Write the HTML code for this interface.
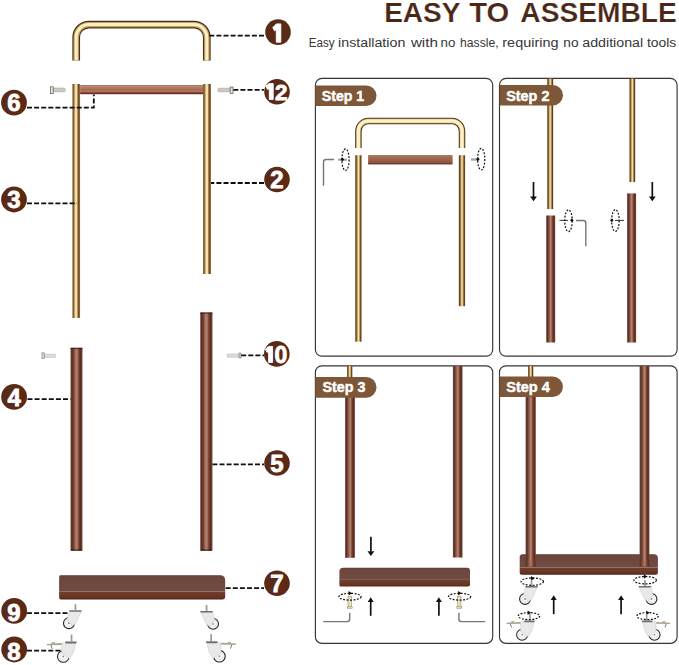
<!DOCTYPE html>
<html><head><meta charset="utf-8">
<style>
html,body{margin:0;padding:0;background:#fff;width:679px;height:665px;overflow:hidden}
svg{display:block}
text{font-family:"Liberation Sans",sans-serif}
</style></head>
<body>
<svg width="679" height="665" viewBox="0 0 679 665">
<defs>
  <linearGradient id="gold" x1="0" y1="0" x2="1" y2="0">
    <stop offset="0" stop-color="#a08058"/>
    <stop offset="0.12" stop-color="#6a4c26"/>
    <stop offset="0.3" stop-color="#c8a870"/>
    <stop offset="0.45" stop-color="#fdebb8"/>
    <stop offset="0.58" stop-color="#f4dca0"/>
    <stop offset="0.75" stop-color="#7c5424"/>
    <stop offset="0.88" stop-color="#6a4420"/>
    <stop offset="1" stop-color="#b89a70"/>
  </linearGradient>
  <linearGradient id="wood" x1="0" y1="0" x2="1" y2="0">
    <stop offset="0" stop-color="#7a5a50"/>
    <stop offset="0.1" stop-color="#582c24"/>
    <stop offset="0.28" stop-color="#7c4232"/>
    <stop offset="0.45" stop-color="#ab806f"/>
    <stop offset="0.56" stop-color="#a87c6b"/>
    <stop offset="0.72" stop-color="#763828"/>
    <stop offset="0.86" stop-color="#5a281c"/>
    <stop offset="1" stop-color="#7a5a50"/>
  </linearGradient>
  <linearGradient id="gold2" x1="0" y1="0" x2="1" y2="0">
    <stop offset="0" stop-color="#7e5e36"/>
    <stop offset="0.14" stop-color="#583a16"/>
    <stop offset="0.34" stop-color="#c4a062"/>
    <stop offset="0.5" stop-color="#fbebbc"/>
    <stop offset="0.66" stop-color="#c8a668"/>
    <stop offset="0.86" stop-color="#583a16"/>
    <stop offset="1" stop-color="#7e5e36"/>
  </linearGradient>
  <linearGradient id="bar2" x1="0" y1="0" x2="0" y2="1">
    <stop offset="0" stop-color="#6e4232"/>
    <stop offset="0.12" stop-color="#a87058"/>
    <stop offset="0.5" stop-color="#9c6248"/>
    <stop offset="0.8" stop-color="#8e5240"/>
    <stop offset="1" stop-color="#5a2818"/>
  </linearGradient>
  <linearGradient id="wood2" x1="0" y1="0" x2="1" y2="0">
    <stop offset="0" stop-color="#6e4a40"/>
    <stop offset="0.14" stop-color="#5e2e22"/>
    <stop offset="0.38" stop-color="#9a6250"/>
    <stop offset="0.52" stop-color="#b48c7a"/>
    <stop offset="0.7" stop-color="#7e4030"/>
    <stop offset="0.86" stop-color="#5e281a"/>
    <stop offset="1" stop-color="#705048"/>
  </linearGradient>
  <linearGradient id="shelfTop" x1="0" y1="0" x2="0" y2="1">
    <stop offset="0" stop-color="#50342e"/>
    <stop offset="0.08" stop-color="#6c463c"/>
    <stop offset="1" stop-color="#714c42"/>
  </linearGradient>
  <linearGradient id="shelfFront" x1="0" y1="0" x2="0" y2="1">
    <stop offset="0" stop-color="#6e4234"/>
    <stop offset="0.18" stop-color="#703c2c"/>
    <stop offset="0.8" stop-color="#663222"/>
    <stop offset="1" stop-color="#4a2018"/>
  </linearGradient>
  <g id="cw">
    <circle cx="0" cy="0" r="5.4" fill="#fbfbfb" stroke="#262626" stroke-width="1.1"/>
    <circle cx="0" cy="0" r="3.2" fill="none" stroke="#cfcfcf" stroke-width="0.6"/>
    <circle cx="0" cy="0" r="0.9" fill="#888"/>
    <path d="M0.2 -11.8 L12.4 -11.8 L7.2 -0.5 L3.6 2.8 L-1.4 -4.2 Z" fill="#e9e9e9" stroke="#c6c6c6" stroke-width="0.5"/>
    <path d="M0 -13 H13 L12.2 -11.4 H1 Z" fill="#707070"/>
    <rect x="5.7" y="-19" width="1.7" height="6" fill="#9a9a9a"/>
  </g>
  <g id="cb">
    <circle cx="0" cy="0" r="5.8" fill="#fbfbfb" stroke="#262626" stroke-width="1.1"/>
    <circle cx="0" cy="0" r="3.5" fill="none" stroke="#cfcfcf" stroke-width="0.6"/>
    <circle cx="0" cy="0" r="0.9" fill="#888"/>
    <path d="M-16.4 -12.6 L-2 -13.4 L-1 -11.6 L-16.4 -11.2 Z" fill="#aca38c"/>
    <path d="M-11.6 -14.2 L-8.6 -14.4 L-7.8 -12.6 L-11.6 -12.4 Z" fill="#b8ae98"/>
    <path d="M-12.4 -11.4 L-11 -7.6" stroke="#6a6458" stroke-width="0.9"/>
    <path d="M-1.5 -13.6 L12.6 -13.6 L10.2 -4 L6.4 2.2 L-1.6 -3.6 Z" fill="#e9e9e9" stroke="#c6c6c6" stroke-width="0.5"/>
    <path d="M1.6 -15 H13.6 L12.8 -13 H2.6 Z" fill="#707070"/>
    <rect x="7.4" y="-22" width="1.7" height="7" fill="#9a9a9a"/>
  </g>
  <linearGradient id="bar" x1="0" y1="0" x2="0" y2="1">
    <stop offset="0" stop-color="#6a4436"/>
    <stop offset="0.1" stop-color="#bf8a78"/>
    <stop offset="0.28" stop-color="#b47a64"/>
    <stop offset="0.5" stop-color="#a66a50"/>
    <stop offset="0.72" stop-color="#b07460"/>
    <stop offset="0.86" stop-color="#7a3422"/>
    <stop offset="1" stop-color="#5a2214"/>
  </linearGradient>
</defs>

<!-- ===== LEFT EXPLODED VIEW ===== -->
<!-- part 1 handle -->
<g fill="none" stroke-linecap="butt">
  <path d="M76.2 60.5 V37.3 A12.7 12.7 0 0 1 88.9 24.6 H194.1 A12.7 12.7 0 0 1 206.8 37.3 V60.5" stroke="#4a3214" stroke-width="7.7"/>
  <path d="M76.2 60.5 V37.3 A12.7 12.7 0 0 1 88.9 24.6 H194.1 A12.7 12.7 0 0 1 206.8 37.3 V60.5" stroke="#c6a262" stroke-width="5.4"/>
  <path d="M76.2 60.5 V37.3 A12.7 12.7 0 0 1 88.9 24.6 H194.1 A12.7 12.7 0 0 1 206.8 37.3 V60.5" stroke="#fcefc6" stroke-width="3"/>
</g>
<!-- part 3 & 2 gold uprights -->
<rect x="72.3" y="84" width="7.8" height="234" fill="url(#gold)"/>
<rect x="203" y="84" width="8" height="190" fill="url(#gold)"/>
<!-- part 6 crossbar -->
<rect x="80.1" y="85.2" width="122.9" height="9" fill="url(#bar)"/>
<!-- brown uprights 4 & 5 -->
<rect x="70.5" y="347.8" width="12" height="203" rx="0.8" fill="url(#wood)"/>
<rect x="200.2" y="312.4" width="12.3" height="238.4" rx="0.8" fill="url(#wood)"/>
<g fill="#3e1a12" opacity="0.75">
  <rect x="70.5" y="347.8" width="12" height="1.3"/>
  <rect x="200.2" y="312.4" width="12.3" height="1.3"/>
  <rect x="70.9" y="549.4" width="11.2" height="1.4"/>
  <rect x="200.6" y="549.4" width="11.5" height="1.4"/>
</g>
<!-- bottom shelf 7 -->
<path d="M60.3 575.2 H220 Q225.2 575.2 225.2 580.4 V591.6 H59.1 V577.2 Q59.1 575.2 60.3 575.2Z" fill="url(#shelfTop)"/>
<path d="M59.1 591.4 H225.2 V596.5 Q225.2 599.4 222.3 599.4 H61 Q59.1 599.4 59.1 597.5Z" fill="url(#shelfFront)"/>
<!-- screws -->
<g fill="#cbcabd" stroke="#9a998c" stroke-width="0.5">
  <rect x="53" y="88" width="12.1" height="3.8" rx="1"/>
  <rect x="218" y="88.2" width="12.2" height="3.6" rx="1"/>
  <rect x="44" y="354.2" width="11.7" height="3.2" rx="0.8" fill="#dcdcdc" stroke="#b0b0b0"/>
  <rect x="227" y="354" width="12" height="3.2" rx="0.8" fill="#dcdcdc" stroke="#b0b0b0"/>
</g>
<g fill="#e6e6de" stroke="#555" stroke-width="0.7">
  <rect x="50.4" y="86.8" width="2.8" height="6.9"/>
  <rect x="230.2" y="87" width="2.8" height="6.6"/>
  <rect x="42" y="352.9" width="2.2" height="5.4" stroke="#777"/>
  <rect x="239" y="353.1" width="2" height="4.8" stroke="#777"/>
</g>
<!-- dashed leader lines -->
<g stroke="#0e0e0e" stroke-width="1.8" stroke-dasharray="5 2.1" fill="none">
  <path d="M209.3 35.6 H265"/>
  <path d="M233.3 89.8 H264"/>
  <path d="M27 107.6 H93.8 V94.5"/>
  <path d="M211 183 H264" stroke-dashoffset="1.7"/>
  <path d="M27 203.3 H77"/>
  <path d="M241.2 355.4 H264"/>
  <path d="M27 399.2 H70.5" stroke-dashoffset="6.6"/>
  <path d="M212.4 464.3 H264"/>
  <path d="M225.7 588.2 H264"/>
  <path d="M27 613.2 H72"/>
  <path d="M27 650.7 H66"/>
</g>

<!-- casters -->
<use href="#cw" transform="translate(68.9 623.2)"/>
<use href="#cw" transform="translate(213.1 623.9) scale(-1 1)"/>
<use href="#cb" transform="translate(63.3 656.5)"/>
<use href="#cb" transform="translate(219.4 656.2) scale(-1 1)"/>
<!-- number badges -->
<g fill="#5a2a16">
  <circle cx="278" cy="32.1" r="12.8"/>
  <circle cx="277" cy="91.8" r="12.8"/>
  <circle cx="14" cy="102.7" r="12.9"/>
  <circle cx="277" cy="179.5" r="12.8"/>
  <circle cx="14" cy="199.5" r="12.9"/>
  <circle cx="276.8" cy="353.9" r="12.8"/>
  <circle cx="14.1" cy="396.9" r="12.9"/>
  <circle cx="277" cy="463" r="12.8"/>
  <circle cx="277" cy="583.2" r="12.8"/>
  <circle cx="14.2" cy="610.9" r="12.9"/>
  <circle cx="14.2" cy="649.5" r="12.9"/>
</g>
<g fill="#fff" stroke="#fff" stroke-width="0.9" stroke-linejoin="round">
  <path d="M272.8 27.6 L276.4 23.9 H280.8 V42.2 H276.3 V29.5 L274.6 30.9 Z"/>
  <path d="M265.8 86.2 L269.2 83.6 H273.2 V99.4 H269.3 V88.5 L267.6 89.6 Z"/>
  <path d="M265.4 349 L268.8 346.4 H272.6 V362.4 H268.6 V351.2 L267 352.4 Z"/>
</g>
<g fill="#fff" font-weight="bold" font-size="24" text-anchor="middle" stroke="#fff" stroke-width="0.8">
  <text x="281.2" y="99.6" font-size="22.5">2</text>
  <text x="14" y="111.4">6</text>
  <text x="277" y="188.2">2</text>
  <text x="14" y="208.2">3</text>
  <text x="280.8" y="362.5" font-size="23">0</text>
  <text x="14.1" y="405.6">4</text>
  <text x="277" y="471.7">5</text>
  <text x="277" y="591.9">7</text>
  <text x="14" y="620.6">9</text>
  <text x="14" y="660">8</text>
</g>

<!-- ===== HEADER ===== -->
<g font-size="28.2" font-weight="bold" fill="#4a2818" stroke="#fff" stroke-width="0.2">
<text x="384.2" y="21.8" textLength="76.3" lengthAdjust="spacingAndGlyphs">EASY</text>
<text x="469.2" y="21.8" textLength="40" lengthAdjust="spacingAndGlyphs">TO</text>
<text x="520.3" y="21.8" textLength="156.5" lengthAdjust="spacingAndGlyphs">ASSEMBLE</text>
</g>
<g font-size="12" fill="#363636">
<text x="308.7" y="47" textLength="25.8" lengthAdjust="spacingAndGlyphs">Easy</text>
<text x="338.1" y="47" textLength="67.2" lengthAdjust="spacingAndGlyphs">installation</text>
<text x="410.9" y="47" textLength="27.0" lengthAdjust="spacingAndGlyphs">with</text>
<text x="440.6" y="47" textLength="14.8" lengthAdjust="spacingAndGlyphs">no</text>
<text x="460" y="47" textLength="38.6" lengthAdjust="spacingAndGlyphs">hassle,</text>
<text x="502.3" y="47" textLength="56.2" lengthAdjust="spacingAndGlyphs">requiring</text>
<text x="563.3" y="47" textLength="15.2" lengthAdjust="spacingAndGlyphs">no</text>
<text x="582.3" y="47" textLength="60.8" lengthAdjust="spacingAndGlyphs">additional</text>
<text x="646.9" y="47" textLength="29.4" lengthAdjust="spacingAndGlyphs">tools</text>
</g>

<!-- ===== PANELS ===== -->
<g fill="none" stroke="#3a3433" stroke-width="1.15">
  <rect x="315.4" y="78.4" width="177.3" height="277.8" rx="6.5"/>
  <rect x="499.5" y="78.4" width="177.6" height="277.8" rx="6.5"/>
  <rect x="315.4" y="365.8" width="177.3" height="277.6" rx="6.5"/>
  <rect x="499.5" y="365.8" width="177.6" height="277.6" rx="6.5"/>
</g>


<!-- ===== PANEL CONTENT ===== -->
<!-- Step 1 -->
<g fill="none" stroke-linecap="butt">
  <path d="M358.4 148 V131 A10 10 0 0 1 368.4 121 H452 A10 10 0 0 1 462 131 V148" stroke="#4e3818" stroke-width="6.5"/>
  <path d="M358.4 148 V131 A10 10 0 0 1 368.4 121 H452 A10 10 0 0 1 462 131 V148" stroke="#e2c68a" stroke-width="4.4"/>
  <path d="M358.4 148 V131 A10 10 0 0 1 368.4 121 H452 A10 10 0 0 1 462 131 V148" stroke="#fdf1cc" stroke-width="3"/>
</g>
<rect x="355.2" y="155.2" width="6.4" height="186.5" fill="url(#gold2)"/>
<rect x="458.8" y="155.2" width="6.3" height="151" fill="url(#gold2)"/>
<rect x="368.1" y="155.3" width="84.5" height="9.1" fill="url(#bar2)"/>

<!-- Step 2 -->
<rect x="547.2" y="78.6" width="6" height="130.5" fill="url(#gold2)"/>
<rect x="546.2" y="215.5" width="9" height="127" fill="url(#wood2)"/>
<rect x="629.4" y="78.6" width="5.8" height="103.4" fill="url(#gold2)"/>
<rect x="627.1" y="193.4" width="9" height="149.1" fill="url(#wood2)"/>

<!-- Step 3 -->
<rect x="347.1" y="366" width="5.3" height="20" fill="url(#gold2)"/>
<rect x="345.1" y="386" width="9.8" height="171.8" fill="url(#wood2)"/>
<rect x="452.9" y="366" width="9.6" height="191.5" fill="url(#wood2)"/>
<path d="M343.4 567.8 H467 Q470 567.8 470 570.8 V579.8 H339.4 V571.8 Q339.4 567.8 343.4 567.8Z" fill="url(#shelfTop)"/>
<path d="M339.4 579.6 H470 V584.6 Q470 586.6 468 586.6 H341 Q339.4 586.6 339.4 585Z" fill="url(#shelfFront)"/>

<!-- Step 4 -->
<rect x="528.1" y="366" width="5.2" height="20" fill="url(#gold2)"/>
<path d="M522.7 554.2 H653.9 Q657.9 554.2 657.9 558.2 V567.6 H519.7 V557.2 Q519.7 554.2 522.7 554.2Z" fill="url(#shelfTop)"/>
<path d="M519.7 567.4 H657.9 V572.2 Q657.9 574.7 655.4 574.7 H521.7 Q519.7 574.7 519.7 572.7Z" fill="url(#shelfFront)"/>
<rect x="525.6" y="386" width="10.2" height="174" fill="url(#wood2)"/>
<rect x="639.6" y="366" width="9.8" height="194" fill="url(#wood2)"/>
<rect x="524.9" y="559.5" width="11.6" height="7" fill="url(#wood2)" opacity="0.85"/>
<rect x="638.9" y="559.5" width="11.2" height="7" fill="url(#wood2)" opacity="0.85"/>

<!-- arrows -->
<g stroke="#111" stroke-width="1.7" fill="none">
  <path d="M533.5 182 V197"/><path d="M652.3 182 V197"/>
  <path d="M370.9 536.8 V551.5"/>
  <path d="M370.7 601.5 V615.8"/><path d="M438.9 601.5 V615.8"/>
  <path d="M553.7 599.5 V614.2"/><path d="M621.1 599.5 V614.2"/>
</g>
<g fill="#111">
  <path d="M530.1 196.5 H536.9 L533.5 201.3Z"/><path d="M648.9 196.5 H655.7 L652.3 201.3Z"/>
  <path d="M367.5 551.2 H374.3 L370.9 556Z"/>
  <path d="M367.7 602 H373.7 L370.7 597.3Z"/><path d="M435.9 602 H441.9 L438.9 597.3Z"/>
  <path d="M550.7 600 H556.7 L553.7 595.3Z"/><path d="M618.1 600 H624.1 L621.1 595.3Z"/>
</g>

<!-- gray leader lines -->
<g stroke="#767676" stroke-width="1.4" fill="none">
  <path d="M334 159.5 H326 Q323.5 159.5 323.5 162 V185.8"/>
  <path d="M576 220.5 H583.3 Q585.8 220.5 585.8 223 V246.2"/>
  <path d="M349.7 612.8 V619.1 Q349.7 621.6 347.2 621.6 H323.3"/>
  <path d="M458.9 612.8 V619.1 Q458.9 621.6 461.4 621.6 H485.2"/>
</g>

<!-- screws in panels -->
<g fill="#a8a8a0">
  <rect x="338" y="158.6" width="9" height="2.2"/>
  <rect x="471" y="158.3" width="7" height="2.4"/>
</g>
<g stroke="#444" stroke-width="1.1">
  <path d="M559.5 220.4 H568"/>
  <path d="M615 220.4 H624"/>
</g>
<g fill="#e6dfb8" stroke="#8a8060" stroke-width="0.5">
  <rect x="348" y="596.2" width="3.4" height="11.6"/>
  <rect x="457.6" y="596.2" width="3.4" height="11.6"/>
  <rect x="347.2" y="606.8" width="5" height="1.4"/>
  <rect x="456.8" y="606.8" width="5" height="1.4"/>
</g>
<g fill="#111">
  <path d="M342.4 157.6 L344.2 159.6 L342.4 161.6 L340.6 159.6Z"/>
  <path d="M477.9 157.2 L479.7 159.2 L477.9 161.2 L476.1 159.2Z"/>
  <path d="M571.9 218.3 L573.7 220.3 L571.9 222.3 L570.1 220.3Z"/>
  <path d="M611.8 218.3 L613.6 220.3 L611.8 222.3 L610 220.3Z"/>
  <path d="M348.6 591 L352 593.3 L348.6 595.6Z"/>
  <path d="M458.2 591 L461.6 593.3 L458.2 595.6Z"/>
  <path d="M531 576.1 L534.4 578.4 L531 580.7Z"/>
  <path d="M643.8 574.2 L647.2 576.5 L643.8 578.8Z"/>
  <path d="M527.6 610.4 L531 612.7 L527.6 615Z"/>
  <path d="M646.2 610.4 L649.6 612.7 L646.2 615Z"/>
</g>
<!-- casters in step 4 -->
<use href="#cw" transform="translate(525 599)"/>
<use href="#cw" transform="translate(651.5 599) scale(-1 1)"/>
<use href="#cb" transform="translate(522.1 634.7) scale(0.95)"/>
<use href="#cb" transform="translate(654.5 634.7) scale(-0.95 0.95)"/>
<!-- dotted ellipses -->
<g fill="none" stroke="#111" stroke-width="1.2" stroke-dasharray="1.9 1.5">
  <ellipse cx="345.5" cy="159.7" rx="3.6" ry="10.8"/>
  <ellipse cx="481.2" cy="159.2" rx="3.6" ry="10.8"/>
  <ellipse cx="568.5" cy="220.7" rx="3.75" ry="10.9"/>
  <ellipse cx="615.4" cy="220.5" rx="3.75" ry="10.9"/>
  <ellipse cx="350" cy="596.7" rx="11.1" ry="3.4"/>
  <ellipse cx="459.6" cy="596.7" rx="11.1" ry="3.4"/>
  <ellipse cx="532.3" cy="581.6" rx="11.25" ry="3.7"/>
  <ellipse cx="645.2" cy="580.2" rx="11.25" ry="3.7"/>
  <ellipse cx="529" cy="616.1" rx="10.8" ry="3.5"/>
  <ellipse cx="647.6" cy="616.1" rx="10.8" ry="3.5"/>
</g>

<!-- tabs -->
<g fill="#7d5738">
  <path d="M315.3 85.5 H366.2 A10.3 10.3 0 0 1 366.2 106.1 H315.3Z"/>
  <path d="M499.7 85 H552.7 A10.3 10.3 0 0 1 552.7 105.6 H499.7Z"/>
  <path d="M315.3 377.1 H366.2 A10.3 10.3 0 0 1 366.2 397.7 H315.3Z"/>
  <path d="M499.7 376.5 H552.7 A10.2 10.2 0 0 1 552.7 396.9 H499.7Z"/>
</g>
<g fill="#fff" font-weight="bold" font-size="14.8" stroke="#fff" stroke-width="0.45">
  <text x="321.8" y="100.9" textLength="42.4" lengthAdjust="spacingAndGlyphs">Step 1</text>
  <text x="506.2" y="100.5" textLength="43.2" lengthAdjust="spacingAndGlyphs">Step 2</text>
  <text x="322.4" y="392.4" textLength="43" lengthAdjust="spacingAndGlyphs">Step 3</text>
  <text x="506.2" y="391.8" textLength="43.6" lengthAdjust="spacingAndGlyphs">Step 4</text>
</g>

</svg>
</body></html>
